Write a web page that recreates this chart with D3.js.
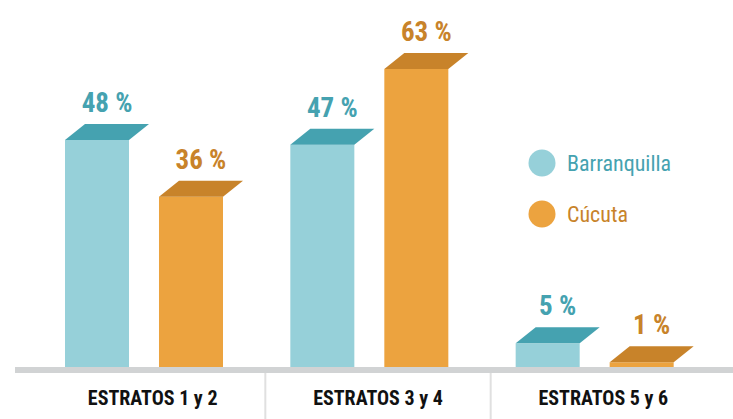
<!DOCTYPE html>
<html>
<head>
<meta charset="utf-8">
<script src="https://cdn.jsdelivr.net/npm/d3@7"></script>
<style>
    html, body { margin: 0; padding: 0; background: #fff; }
    svg { display: block; }
    text { font-family: "Roboto Condensed", "Liberation Sans Narrow", "DejaVu Sans Condensed", sans-serif; }
</style>
</head>
<body>
<svg id="chart" width="733" height="419"></svg>
<script>
    var categories = ['ESTRATOS 1 y 2', 'ESTRATOS 3 y 4', 'ESTRATOS 5 y 6'],
        seriesNames = ['Barranquilla', 'Cúcuta'],
        barranquilla = [48, 47, 5],
        cucuta = [36, 63, 1];

    var WIDTH    = 733,
        HEIGHT   = 419,
        BASELINE = 367,
        ROOF_DX  = 20,
        ROOF_DY  = 16,
        COLORS   = {
            'Barranquilla': { front: '#96d0d9', roof: '#45a2b0', text: '#45a2b0' },
            'Cúcuta':       { front: '#eca33f', roof: '#c8832a', text: '#c8832a' }
        };

    var svg = d3.select('#chart');

    var rows = [];
    categories.forEach(function (c, i) {
        rows.push({ cat: c, series: 'Barranquilla', value: barranquilla[i] });
        rows.push({ cat: c, series: 'Cúcuta', value: cucuta[i] });
    });

    var x0 = d3.scaleBand().domain(categories).range([40, 716]);
    var x1 = d3.scaleBand().domain(seriesNames).range([25, 183]).paddingInner(0.319);
    // the original is not drawn to scale, so this is a best fit
    var y = d3.scaleLinear().domain([0, 63]).range([BASELINE, BASELINE - 298]);

    // bars: front face + slanted roof
    var bars = svg.append('g').selectAll('g')
        .data(rows)
        .join('g');

    bars.append('rect')
        .attr('x', function (d) { return x0(d.cat) + x1(d.series); })
        .attr('y', function (d) { return y(d.value); })
        .attr('width', x1.bandwidth())
        .attr('height', function (d) { return BASELINE - y(d.value); })
        .attr('fill', function (d) { return COLORS[d.series].front; });

    bars.append('path')
        .attr('d', function (d) {
            var x = x0(d.cat) + x1(d.series), t = y(d.value), w = x1.bandwidth();
            return 'M' + x + ',' + t +
                'L' + (x + ROOF_DX) + ',' + (t - ROOF_DY) +
                'L' + (x + w + ROOF_DX) + ',' + (t - ROOF_DY) +
                'L' + (x + w) + ',' + t + 'Z';
        })
        .attr('fill', function (d) { return COLORS[d.series].roof; });

    bars.append('text')
        .attr('x', function (d) { return x0(d.cat) + x1(d.series) + x1.bandwidth() / 2 + ROOF_DX / 2; })
        .attr('y', function (d) { return y(d.value) - ROOF_DY - 12; })
        .attr('text-anchor', 'middle')
        .attr('font-size', 27)
        .attr('font-weight', 'bold')
        .attr('fill', function (d) { return COLORS[d.series].text; })
        .text(function (d) { return d.value + ' %'; });

    // axis line
    svg.append('rect')
        .attr('x', 15)
        .attr('y', BASELINE)
        .attr('width', WIDTH - 15)
        .attr('height', 6)
        .attr('fill', '#d1d3d4');

    // separators between categories
    svg.append('g').selectAll('rect')
        .data(categories.slice(1))
        .join('rect')
        .attr('x', function (d) { return x0(d) - 1; })
        .attr('y', BASELINE + 6)
        .attr('width', 2)
        .attr('height', HEIGHT - BASELINE - 6)
        .attr('fill', '#e0e0e0');

    // category labels
    svg.append('g').selectAll('text')
        .data(categories)
        .join('text')
        .attr('x', function (d) { return x0(d) + x0.bandwidth() / 2; })
        .attr('y', 405)
        .attr('text-anchor', 'middle')
        .attr('font-size', 20)
        .attr('font-weight', 'bold')
        .attr('fill', '#111')
        .text(function (d) { return d; });

    // legend
    var legend = svg.append('g').selectAll('g')
        .data(seriesNames)
        .join('g')
        .attr('transform', function (d, i) { return 'translate(542,' + (163 + i * 51) + ')'; });

    legend.append('circle')
        .attr('r', 13.5)
        .attr('fill', function (d) { return COLORS[d].front; });

    legend.append('text')
        .attr('x', 25)
        .attr('y', 7.5)
        .attr('font-size', 22)
        .attr('fill', function (d) { return COLORS[d].text; })
        .text(function (d) { return d; });
</script>
</body>
</html>
